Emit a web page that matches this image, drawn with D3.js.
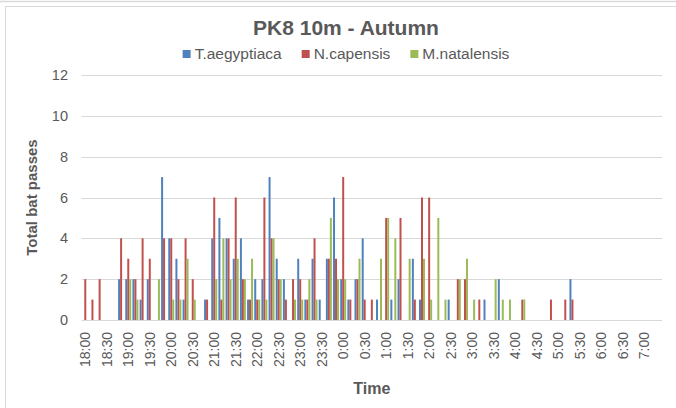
<!DOCTYPE html>
<html>
<head>
<meta charset="utf-8">
<script src="https://cdn.jsdelivr.net/npm/d3@7"></script>
<style>
  html, body { margin: 0; padding: 0; background: #fff; }
  svg { display: block; font-family: "Liberation Sans", Arial, sans-serif; }
</style>
</head>
<body>
<svg id="chart" width="676" height="408"></svg>
<script>
// ---- data (10-minute bins, 18:00 to 7:20) ----
const startMinutes = 18 * 60;
const binMinutes = 10;
const binCount = 81;
const categories = d3.range(binCount).map(i => {
  const m = (startMinutes + i * binMinutes) % (24 * 60);
  return Math.floor(m / 60) + ":" + String(m % 60).padStart(2, "0");
});
const seriesNames = ["T.aegyptiaca", "N.capensis", "M.natalensis"];
const aegyptiaca = [0,0,0,0,0,2,2,2,1,2, 0,7,4,3,1,0,0,1,4,5, 4,3,4,1,2,2,7,3,2,0, 3,1,3,1,3,6,2,1,2,4, 0,1,0,1,2,0,3,1,0,0, 0,1,0,0,0,0,1,0,2,0, 0,0,0,0,0,0,0,0,2,0, 0,0,0,0,0,0,0,0,0,0, 0];
const capensis   = [2,1,2,0,0,4,3,2,4,3, 0,4,4,2,4,2,0,1,6,1, 4,6,2,1,1,6,4,2,1,2, 2,1,4,0,3,3,7,1,2,1, 1,0,5,0,5,0,1,6,6,0, 0,0,2,2,0,1,0,0,0,0, 0,1,0,0,0,1,0,1,1,0, 0,0,0,0,0,0,0,0,0,0, 0];
const natalensis = [0,0,0,0,0,0,2,1,0,0, 2,0,1,1,3,1,0,0,2,4, 2,3,2,3,1,1,4,2,0,1, 1,2,1,0,5,2,2,0,3,0, 0,3,5,4,0,3,0,3,1,5, 1,0,2,3,1,0,0,2,1,1, 0,1,0,0,0,0,0,0,0,0, 0,0,0,0,0,0,0,0,0,0, 0];
const seriesValues = [aegyptiaca, capensis, natalensis];
const yTicks = [0, 2, 4, 6, 8, 10, 12];
const titleText = "PK8 10m - Autumn";
const yTitle = "Total bat passes";
const xTitle = "Time";

// ---- styles ----
const colors = ["#4F81BD", "#C0504D", "#9BBB59"];
const gridColor = "#D9D9D9";
const textColor = "#595959";

const svg = d3.select("#chart");

// chart frame
svg.append("line").attr("x1", 0).attr("x2", 676).attr("y1", 1.5).attr("y2", 1.5)
  .attr("stroke", gridColor).attr("stroke-width", 1.5);
svg.append("rect").attr("x", 5.5).attr("y", 6.5).attr("width", 690).attr("height", 420)
  .attr("fill", "#fff").attr("stroke", gridColor).attr("stroke-width", 1);

const plot = { left: 81.7, right: 662, top: 75, bottom: 320 };

const x = d3.scaleBand().domain(d3.range(binCount))
  .range([plot.left, plot.right]).paddingInner(1 - 1 / 1.2).paddingOuter((1 - 1 / 1.2) / 2);
const xs = d3.scaleBand().domain(d3.range(seriesNames.length)).range([0, x.bandwidth()]);
const y = d3.scaleLinear().domain([0, 12]).range([plot.bottom, plot.top]);

// gridlines
svg.append("g").selectAll("line").data(yTicks).join("line")
  .attr("x1", plot.left).attr("x2", plot.right)
  .attr("y1", d => Math.round(y(d)) + 0.5).attr("y2", d => Math.round(y(d)) + 0.5)
  .attr("stroke", gridColor).attr("stroke-width", 1);

// y axis labels
const yAxis = d3.axisLeft(y).tickValues(yTicks).tickSize(0).tickPadding(0);
const gy = svg.append("g").attr("transform", `translate(${68},0)`).call(yAxis);
gy.select(".domain").remove();
gy.selectAll("text").attr("fill", textColor).style("font-size", "14.5px")
  .style("font-family", "'Liberation Sans', Arial, sans-serif");

// bars
const groups = svg.append("g").selectAll("g").data(seriesValues).join("g")
  .attr("fill", (d, i) => colors[i]);
groups.each(function (vals, si) {
  d3.select(this).selectAll("rect").data(vals.map((v, ci) => ({ v, ci })).filter(d => d.v > 0))
    .join("rect")
    .attr("x", d => x(d.ci) + xs(si))
    .attr("width", xs.bandwidth())
    .attr("y", d => y(d.v))
    .attr("height", d => y(0) - y(d.v));
});

// x axis labels (every 30 min)
const xAxis = d3.axisBottom(x)
  .tickValues(d3.range(0, binCount, 3))
  .tickFormat(i => categories[i]).tickSize(0).tickPadding(0);
const gx = svg.append("g").attr("transform", `translate(0,${plot.bottom})`).call(xAxis);
gx.select(".domain").remove();
gx.selectAll("text")
  .attr("fill", textColor).style("font-size", "14px")
  .style("font-family", "'Liberation Sans', Arial, sans-serif")
  .attr("text-anchor", "end")
  .attr("transform", "rotate(-90)")
  .attr("x", -12).attr("y", 0).attr("dy", "0.35em");

// title
svg.append("text").attr("x", 346).attr("y", 35).attr("text-anchor", "middle")
  .attr("fill", textColor).style("font-size", "21px").style("font-weight", "bold")
  .text(titleText);

// axis titles
svg.append("text").attr("transform", `translate(37,${(plot.top + plot.bottom) / 2}) rotate(-90)`)
  .attr("text-anchor", "middle").attr("fill", textColor)
  .style("font-size", "15px").style("font-weight", "bold").text(yTitle);
svg.append("text").attr("x", (plot.left + plot.right) / 2).attr("y", 394)
  .attr("text-anchor", "middle").attr("fill", textColor)
  .style("font-size", "16px").style("font-weight", "bold").text(xTitle);

// legend
const legend = svg.append("g");
const sq = 8, gapSq = 4, gapItem = 20;
const items = seriesNames.map((name, i) => {
  const g = legend.append("g");
  g.append("rect").attr("width", sq).attr("height", sq).attr("y", -sq / 2 - 0).attr("fill", colors[i]);
  const t = g.append("text").attr("x", sq + gapSq).attr("dy", "0.35em")
    .attr("fill", textColor).style("font-size", "15.5px").text(name);
  return { g, w: sq + gapSq + t.node().getComputedTextLength() };
});
const total = d3.sum(items, d => d.w) + gapItem * (items.length - 1);
let cx = 346 - total / 2;
items.forEach(it => { it.g.attr("transform", `translate(${cx},54)`); cx += it.w + gapItem; });
</script>
</body>
</html>
